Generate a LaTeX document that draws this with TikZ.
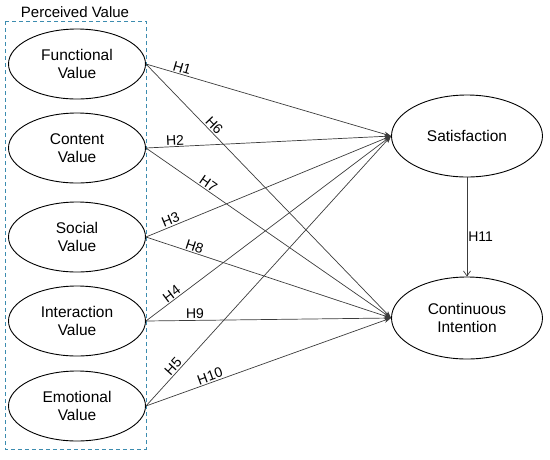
\documentclass[tikz,border=0pt]{standalone}
\usepackage{fontspec}
\setmainfont{Liberation Sans}
\usetikzlibrary{shapes.geometric,arrows.meta}
\definecolor{boxblue}{RGB}{60,140,175}
\definecolor{linegray}{RGB}{60,60,60}
\begin{document}
\begin{tikzpicture}[x=1pt,y=-1pt,
  latent/.style={draw,ellipse,line width=0.9pt,minimum width=137pt,minimum height=70pt,inner sep=0pt,align=center,font=\fontsize{15.5}{18.5}\selectfont},
  outcome/.style={draw,ellipse,line width=0.9pt,minimum width=151pt,minimum height=82pt,inner sep=0pt,align=center,font=\fontsize{15.5}{18.5}\selectfont},
  path/.style={draw=linegray,line width=0.7pt,-{Stealth[length=7pt,width=5pt]}},
  hlab/.style={font=\fontsize{14}{16}\selectfont,sloped,above,inner sep=0.5pt,outer sep=1pt}]
\useasboundingbox (0,0) rectangle (550,459);
\draw[boxblue,line width=1pt,dash pattern=on 4pt off 3pt] (5,21) rectangle (146,449);
\node[font=\fontsize{15}{18}\selectfont] (pv) at (75,12) {Perceived Value};
\node[latent] (fv) at (77,64) {Functional\\Value};
\node[latent] (cv) at (77,148) {Content\\Value};
\node[latent] (sv) at (77,237) {Social\\Value};
\node[latent] (iv) at (77,321) {Interaction\\Value};
\node[latent] (ev) at (77,406) {Emotional\\Value};
\node[outcome] (sat) at (467,136) {Satisfaction};
\node[outcome] (ci) at (467,318) {Continuous\\Intention};
\path[path] (fv.east) -- node[hlab,pos=0.14]{H1} (sat.west);
\path[path] (fv.east) -- node[hlab,pos=0.26]{H6} (ci.west);
\path[path] (cv.east) -- node[hlab,pos=0.12]{H2} (sat.west);
\path[path] (cv.east) -- node[hlab,pos=0.24]{H7} (ci.west);
\path[path] (sv.east) -- node[hlab,pos=0.11]{H3} (sat.west);
\path[path] (sv.east) -- node[hlab,pos=0.19]{H8} (ci.west);
\path[path] (iv.east) -- node[hlab,pos=0.12]{H4} (sat.west);
\path[path] (iv.east) -- node[hlab,pos=0.2]{H9} (ci.west);
\path[path] (ev.east) -- node[hlab,pos=0.13]{H5} (sat.west);
\path[path] (ev.east) -- node[hlab,pos=0.27]{H10} (ci.west);
\draw[draw=linegray,line width=0.7pt,-{Straight Barb[length=5pt,width=7pt]}] (sat.south) -- node[right,pos=0.6,font=\fontsize{14}{16}\selectfont,inner sep=1pt]{H11} (ci.north);
\end{tikzpicture}
\end{document}
